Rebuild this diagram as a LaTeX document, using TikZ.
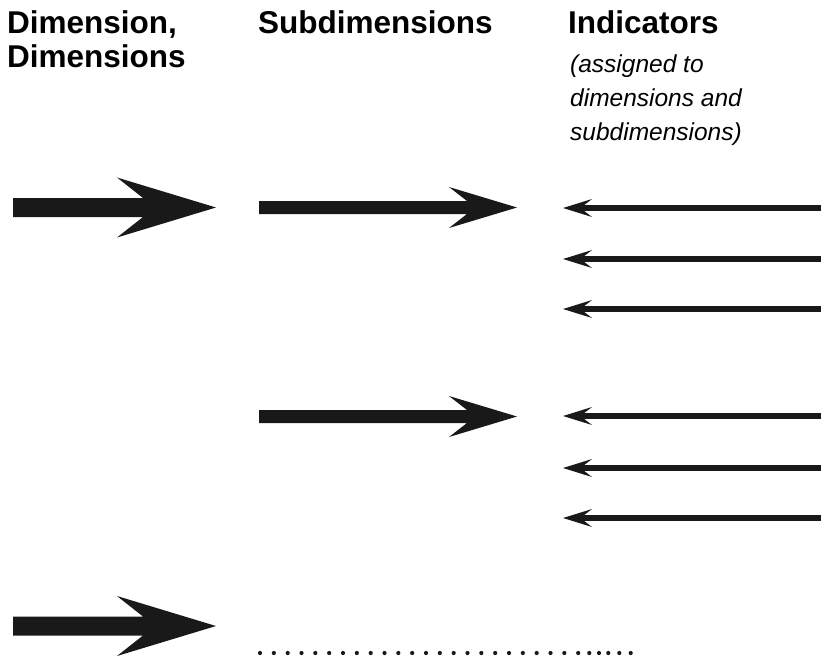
\documentclass[tikz,border=0pt]{standalone}
\usepackage{fontspec}
\setmainfont{Liberation Sans}
\begin{document}
\begin{tikzpicture}[x=1pt,y=-1pt,
  headtxt/.style={anchor=base west,inner sep=0pt,font=\fontsize{31.5}{34}\selectfont\bfseries},
  subtxt/.style={anchor=base west,inner sep=0pt,font=\fontsize{24.5}{34}\selectfont\itshape},
  bigarr/.pic={\fill[black!90] (-203,-9.5) -- (-73,-9.5) -- (-99,-30) -- (0,0) -- (-99,30) -- (-73,9.5) -- (-203,9.5) -- cycle;},
  subarr/.pic={\fill[black!90] (-258,-6.5) -- (-50,-6.5) -- (-68,-20.5) -- (0,0) -- (-68,20.5) -- (-50,6.5) -- (-258,6.5) -- cycle;},
  indarr/.pic={\fill[black!90] (258,-2.8) -- (21,-2.8) -- (29,-9) -- (0,0) -- (29,9) -- (21,2.8) -- (258,2.8) -- cycle;},
  dot/.style={circle,fill=black!90,inner sep=0pt,minimum size=4.2pt}
]
\useasboundingbox (0,0) rectangle (821,659);

% headings
\node[headtxt] (h1) at (7,33) {Dimension,};
\node[headtxt] (h1b) at (7,67) {Dimensions};
\node[headtxt] (h2) at (258,33) {Subdimensions};
\node[headtxt] (h3) at (568,33) {Indicators};
\node[subtxt] (n1) at (570,72) {(assigned to};
\node[subtxt] (n2) at (570,106) {dimensions and};
\node[subtxt] (n3) at (570,140) {subdimensions)};

% dimension arrows
\pic at (216,207.5) {bigarr};
\pic at (216,626) {bigarr};

% subdimension arrows
\pic at (517,207.5) {subarr};
\pic at (517,416.5) {subarr};

% indicator arrows
\foreach \yy in {208,259,309,416,468,518}
  \pic at (563,\yy) {indarr};

% dotted line
\foreach \xx [count=\i] in {260,273.83,287.67,301.5,315.33,329.17,343,356.83,370.67,384.5,398.33,412.17,426,439.83,453.67,467.5,481.33,495.17,509,522.83,536.67,550.5,564.33,578.2,589.3,599,608.3,619.3,630.7}
  \node[dot] (d\i) at (\xx,653) {};
\end{tikzpicture}
\end{document}
